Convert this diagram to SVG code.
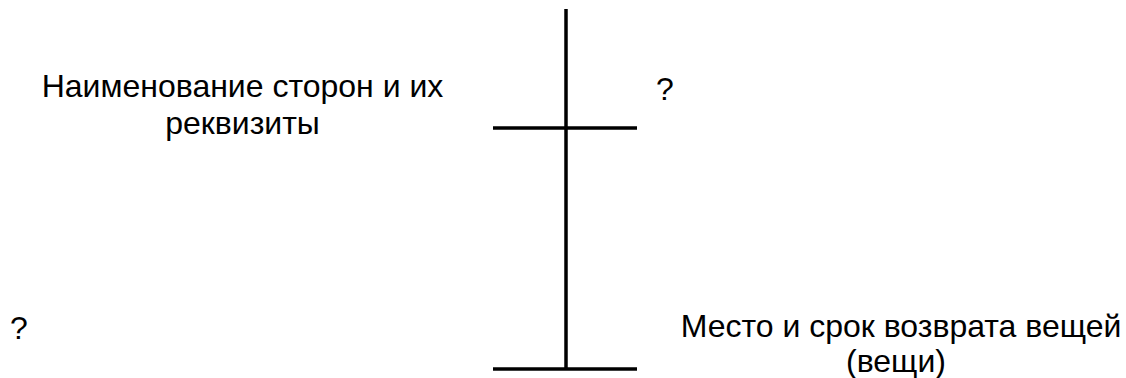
<svg xmlns="http://www.w3.org/2000/svg" width="1126" height="378" viewBox="0 0 1126 378">
<style>
text{font-family:"Liberation Sans",Arial,sans-serif;font-size:32px;fill:#000}
.ln{stroke:#000;stroke-width:3.5;fill:none}
</style>
<rect width="1126" height="378" fill="#fff"/>
<g id="connectors">
<line class="ln" x1="566" y1="9" x2="566" y2="369"/>
<line class="ln" x1="493" y1="128" x2="637" y2="128"/>
<line class="ln" x1="493" y1="369" x2="637" y2="369"/>
</g>
<g id="node-parties">
<text x="242.5" y="97" text-anchor="middle">Наименование сторон и их</text>
<text x="242.5" y="134" text-anchor="middle">реквизиты</text>
</g>
<g id="node-q1"><text x="656" y="100">?</text></g>
<g id="node-q2"><text x="10" y="339">?</text></g>
<g id="node-return">
<text x="901" y="337" text-anchor="middle">Место и срок возврата вещей</text>
<text x="896" y="372" text-anchor="middle">(вещи)</text>
</g>
</svg>
